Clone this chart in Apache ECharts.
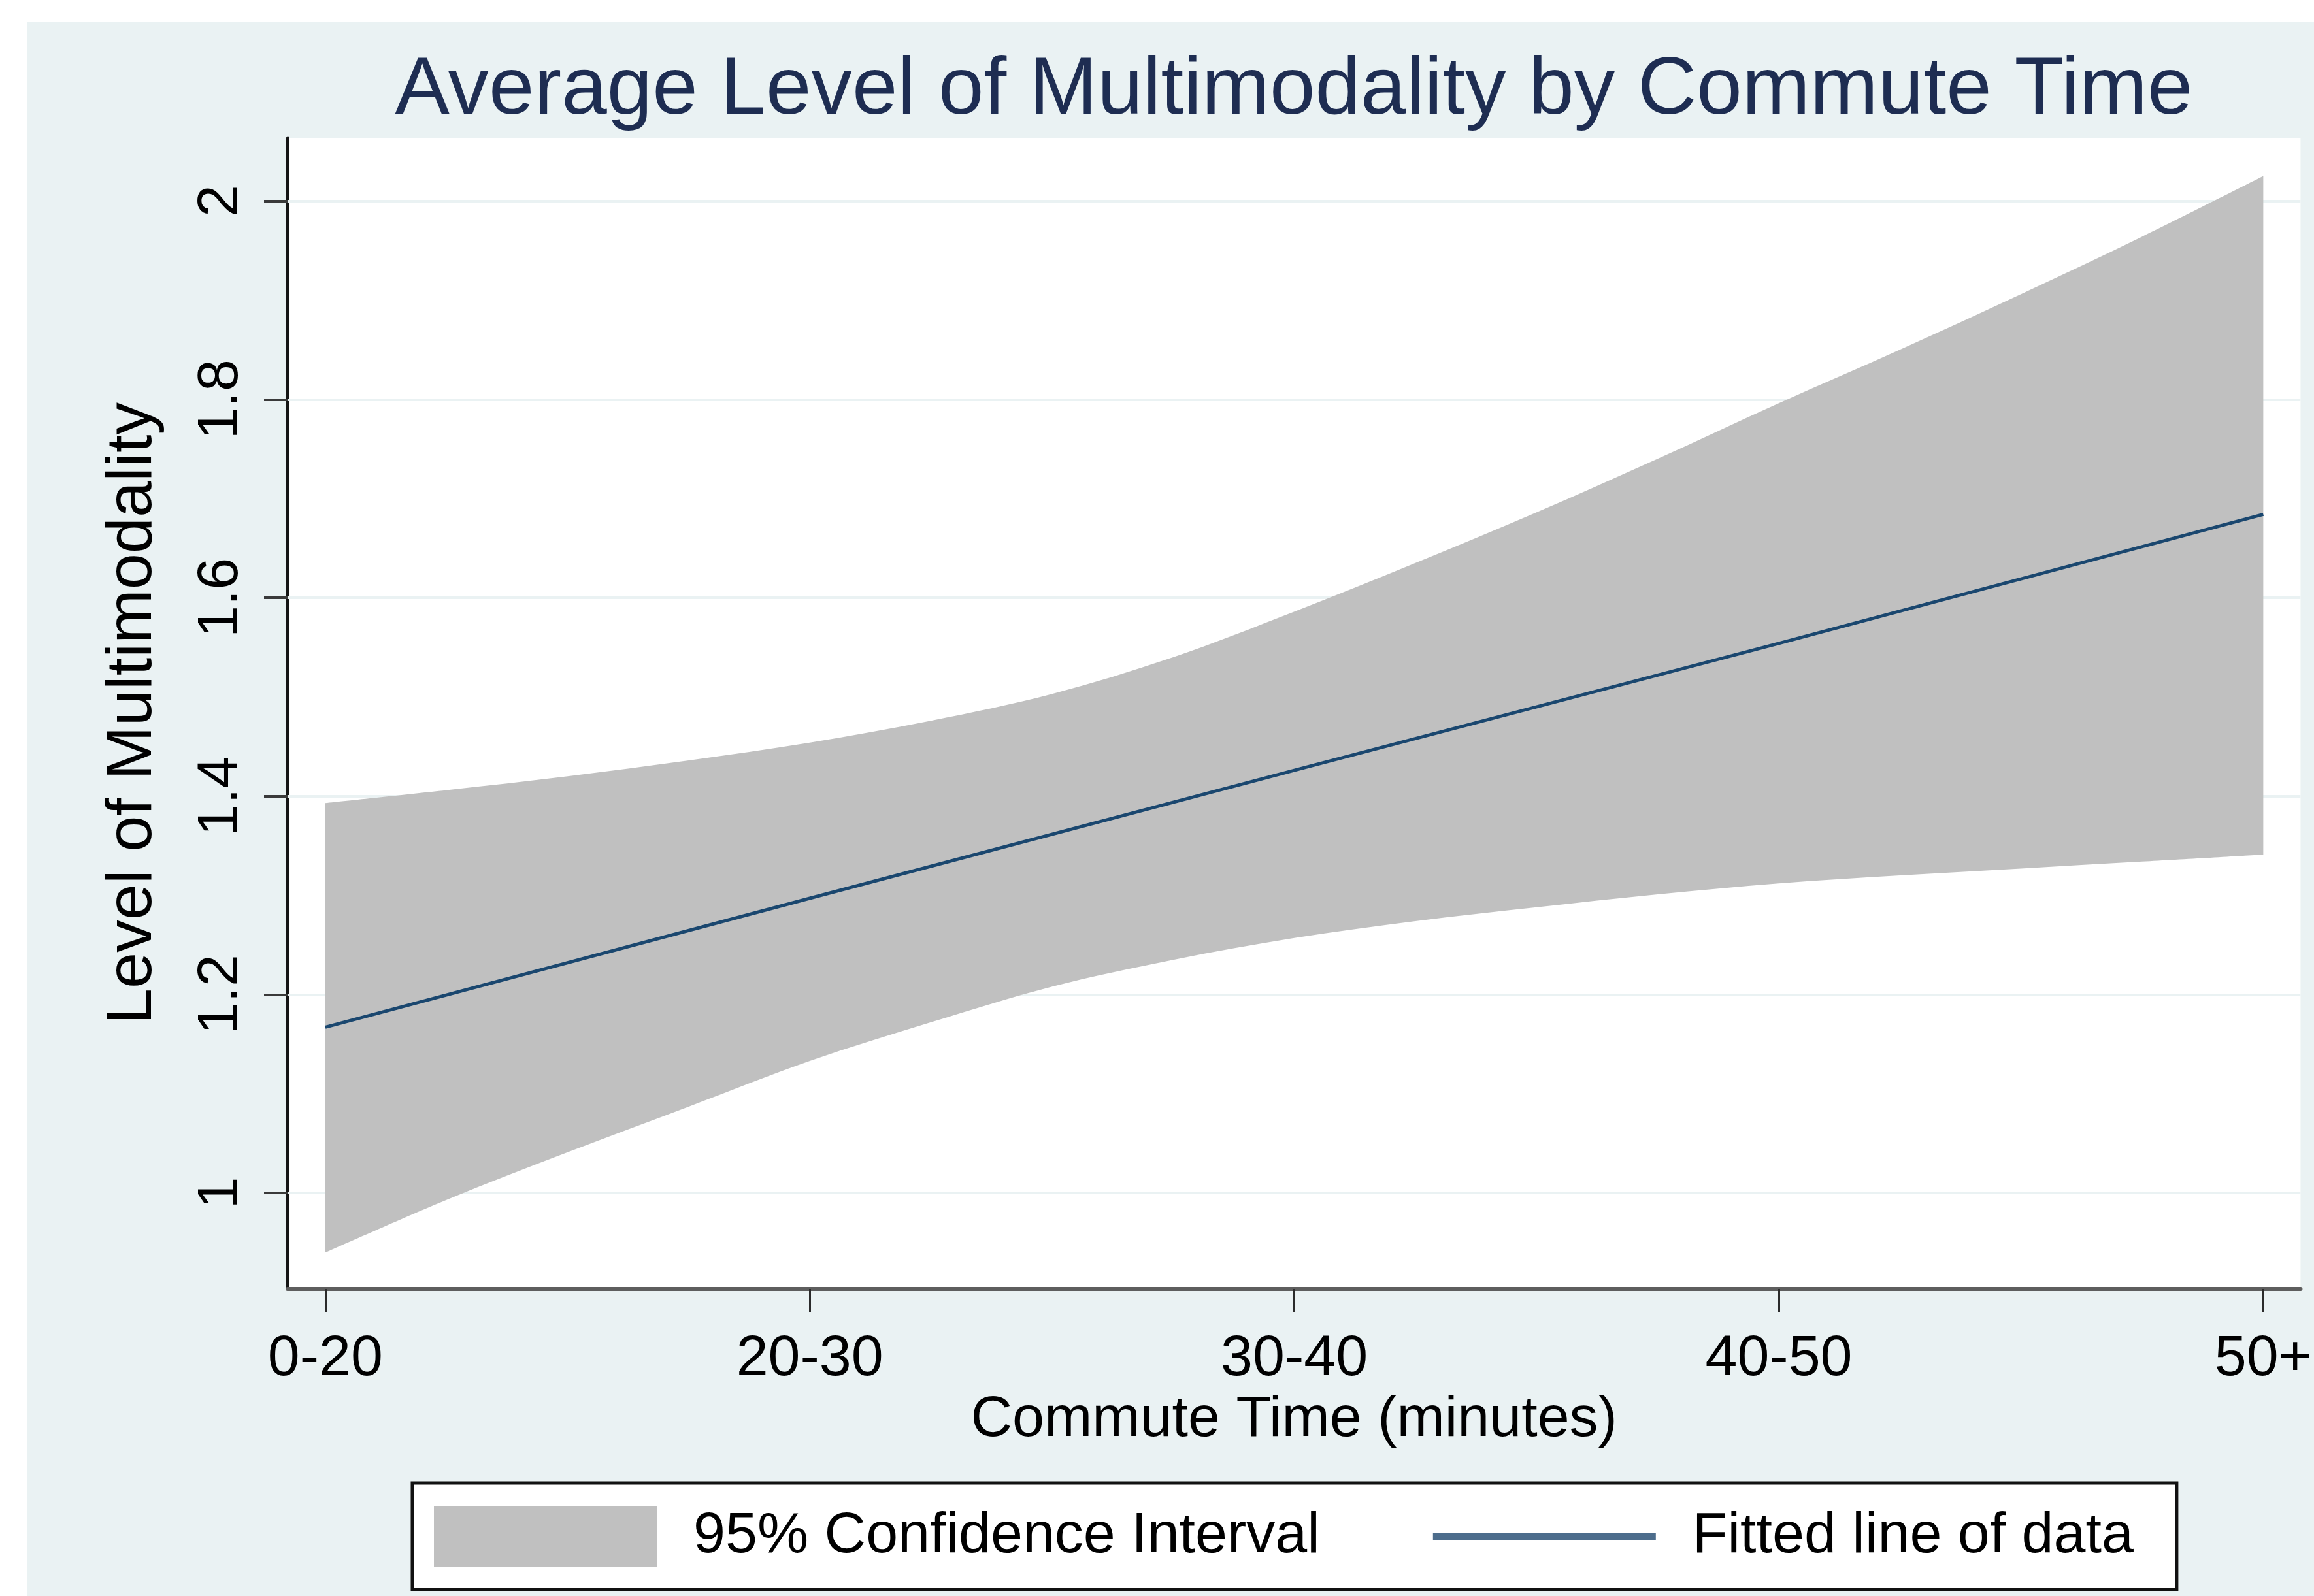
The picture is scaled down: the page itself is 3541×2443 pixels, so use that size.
<!DOCTYPE html>
<html>
<head>
<meta charset="utf-8">
<title>Average Level of Multimodality by Commute Time</title>
<script src="https://cdn.jsdelivr.net/npm/echarts@6/dist/echarts.min.js"></script>
<style>
  html, body { margin: 0; padding: 0; background: #ffffff; }
  #chart { width: 3541px; height: 2443px; }
</style>
</head>
<body>
<div id="chart"></div>
<script>
// Commute-time groups along the x axis (positions 0..4)
const commuteBands = ['0-20', '20-30', '30-40', '40-50', '50+'];
const bandPos = [0, 1, 2, 3, 4];

// Fitted (linear) level of multimodality at each commute group
const fittedLine = [1.167, 1.297, 1.426, 1.554, 1.684];

// 95% confidence interval, sampled every quarter step along the x axis
const ciPos = [0, 0.25, 0.5, 0.75, 1, 1.25, 1.5, 1.75, 2, 2.25, 2.5, 2.75, 3, 3.25, 3.5, 3.75, 4];
const ciUpper = [1.393, 1.406, 1.420, 1.436, 1.454, 1.476, 1.503, 1.540, 1.586, 1.635, 1.686, 1.740, 1.796, 1.850, 1.906, 1.964, 2.025];
const ciLower = [0.940, 0.993, 1.041, 1.087, 1.133, 1.172, 1.208, 1.235, 1.257, 1.274, 1.288, 1.301, 1.312, 1.320, 1.327, 1.334, 1.341];

// Y axis ticks
const yTicks = [1, 1.2, 1.4, 1.6, 1.8, 2];
const yTickLabels = ['1', '1.2', '1.4', '1.6', '1.8', '2'];

const FONT = '"Liberation Sans", Arial, Helvetica, sans-serif';

// Smooth pixel-space curve through points (Catmull-Rom as cubic Beziers)
function curveSegments(pts) {
  let d = '';
  for (let i = 0; i < pts.length - 1; i++) {
    const p0 = pts[Math.max(i - 1, 0)];
    const p1 = pts[i];
    const p2 = pts[i + 1];
    const p3 = pts[Math.min(i + 2, pts.length - 1)];
    const c1x = p1[0] + (p2[0] - p0[0]) / 6, c1y = p1[1] + (p2[1] - p0[1]) / 6;
    const c2x = p2[0] - (p3[0] - p1[0]) / 6, c2y = p2[1] - (p3[1] - p1[1]) / 6;
    d += ' C' + c1x + ',' + c1y + ' ' + c2x + ',' + c2y + ' ' + p2[0] + ',' + p2[1];
  }
  return d;
}

const chart = echarts.init(document.getElementById('chart'), null, { renderer: 'canvas' });

const option = {
  backgroundColor: '#ffffff',
  animation: false,
  graphic: [{
    type: 'rect',
    z: -100,
    shape: { x: 42, y: 33, width: 3541 - 42, height: 2443 - 33 },
    style: { fill: '#eaf2f3' }
  }],
  title: {
    text: 'Average Level of Multimodality by Commute Time',
    left: 1980,
    top: 77,
    textAlign: 'center',
    padding: 0,
    textStyle: { fontFamily: FONT, fontSize: 125, fontWeight: 'normal', color: '#1e2d52' }
  },
  grid: {
    left: 440, right: 20, top: 211, bottom: 470,
    show: true, backgroundColor: '#ffffff', borderWidth: 0
  },
  xAxis: {
    type: 'value',
    min: -0.078, max: 4.077,
    name: 'Commute Time (minutes)',
    nameLocation: 'middle',
    nameGap: 157,
    nameTextStyle: { fontFamily: FONT, fontSize: 88, color: '#000' },
    axisLine: { onZero: false, lineStyle: { color: '#5e5e5e', width: 6 } },
    axisTick: { customValues: bandPos, length: 36, lineStyle: { color: '#2b2b2b', width: 3 } },
    axisLabel: {
      customValues: bandPos,
      margin: 64,
      fontFamily: FONT, fontSize: 88, color: '#000',
      formatter: v => commuteBands[Math.round(v)]
    },
    splitLine: { show: false }
  },
  yAxis: {
    type: 'value',
    min: 0.9032, max: 2.0636,
    name: 'Level of Multimodality',
    nameLocation: 'middle',
    nameGap: 187,
    nameTextStyle: { fontFamily: FONT, fontSize: 99, color: '#000' },
    axisLine: { show: true, onZero: false, lineStyle: { color: '#151515', width: 5 } },
    axisTick: { show: true, customValues: yTicks, length: 36, lineStyle: { color: '#3a3a3a', width: 4 } },
    axisLabel: {
      customValues: yTicks,
      rotate: 90,
      margin: 57,
      fontFamily: FONT, fontSize: 88, color: '#000',
      formatter: v => yTickLabels[yTicks.findIndex(t => Math.abs(t - v) < 1e-6)]
    },
    splitLine: { show: false }
  },
  legend: {
    left: 631,
    top: 2270,
    orient: 'horizontal',
    padding: [35, 66, 34, 33],
    itemGap: 173,
    itemWidth: 341,
    itemHeight: 94,
    symbolKeepAspect: true,
    backgroundColor: '#ffffff',
    borderColor: '#111111',
    borderWidth: 5,
    borderRadius: 0,
    selectedMode: false,
    textStyle: { fontFamily: FONT, fontSize: 88, color: '#000', padding: [0, 0, 0, 51] },
    data: [
      { name: '95% Confidence Interval', icon: 'rect', itemStyle: { color: '#c0c0c0' } },
      { name: 'Fitted line of data', icon: 'path://M0 0H341V10H0Z', itemStyle: { color: '#4d6d8c' } }
    ]
  },
  series: [
    {
      // horizontal grid lines at each y tick, kept beneath the band
      name: 'grid',
      type: 'line',
      data: [],
      z: 1,
      silent: true,
      markLine: {
        silent: true,
        z: 1,
        symbol: 'none',
        label: { show: false },
        lineStyle: { color: '#eaf2f3', width: 4, type: 'solid' },
        data: yTicks.map(v => ({ yAxis: v }))
      }
    },
    {
      name: '95% Confidence Interval',
      type: 'custom',
      z: 2,
      itemStyle: { color: '#c0c0c0' },
      data: ciPos.map((x, i) => [x, ciLower[i], ciUpper[i]]),
      encode: { x: 0, y: [1, 2] },
      renderItem: function (params, api) {
        if (params.dataIndex !== 0) return;
        const up = ciPos.map((x, i) => api.coord([x, ciUpper[i]]));
        const lo = ciPos.map((x, i) => api.coord([x, ciLower[i]])).reverse();
        const d = 'M' + up[0][0] + ',' + up[0][1] + curveSegments(up) +
          ' L' + lo[0][0] + ',' + lo[0][1] + curveSegments(lo) + ' Z';
        return {
          type: 'path',
          shape: { pathData: d, layout: 'center' },
          style: { fill: '#c0c0c0', stroke: null }
        };
      }
    },
    {
      name: 'Fitted line of data',
      type: 'line',
      z: 3,
      symbol: 'none',
      lineStyle: { color: '#1a476f', width: 5 },
      itemStyle: { color: '#1a476f' },
      data: bandPos.map((x, i) => [x, fittedLine[i]])
    }
  ]
};

chart.setOption(option);
</script>
</body>
</html>
